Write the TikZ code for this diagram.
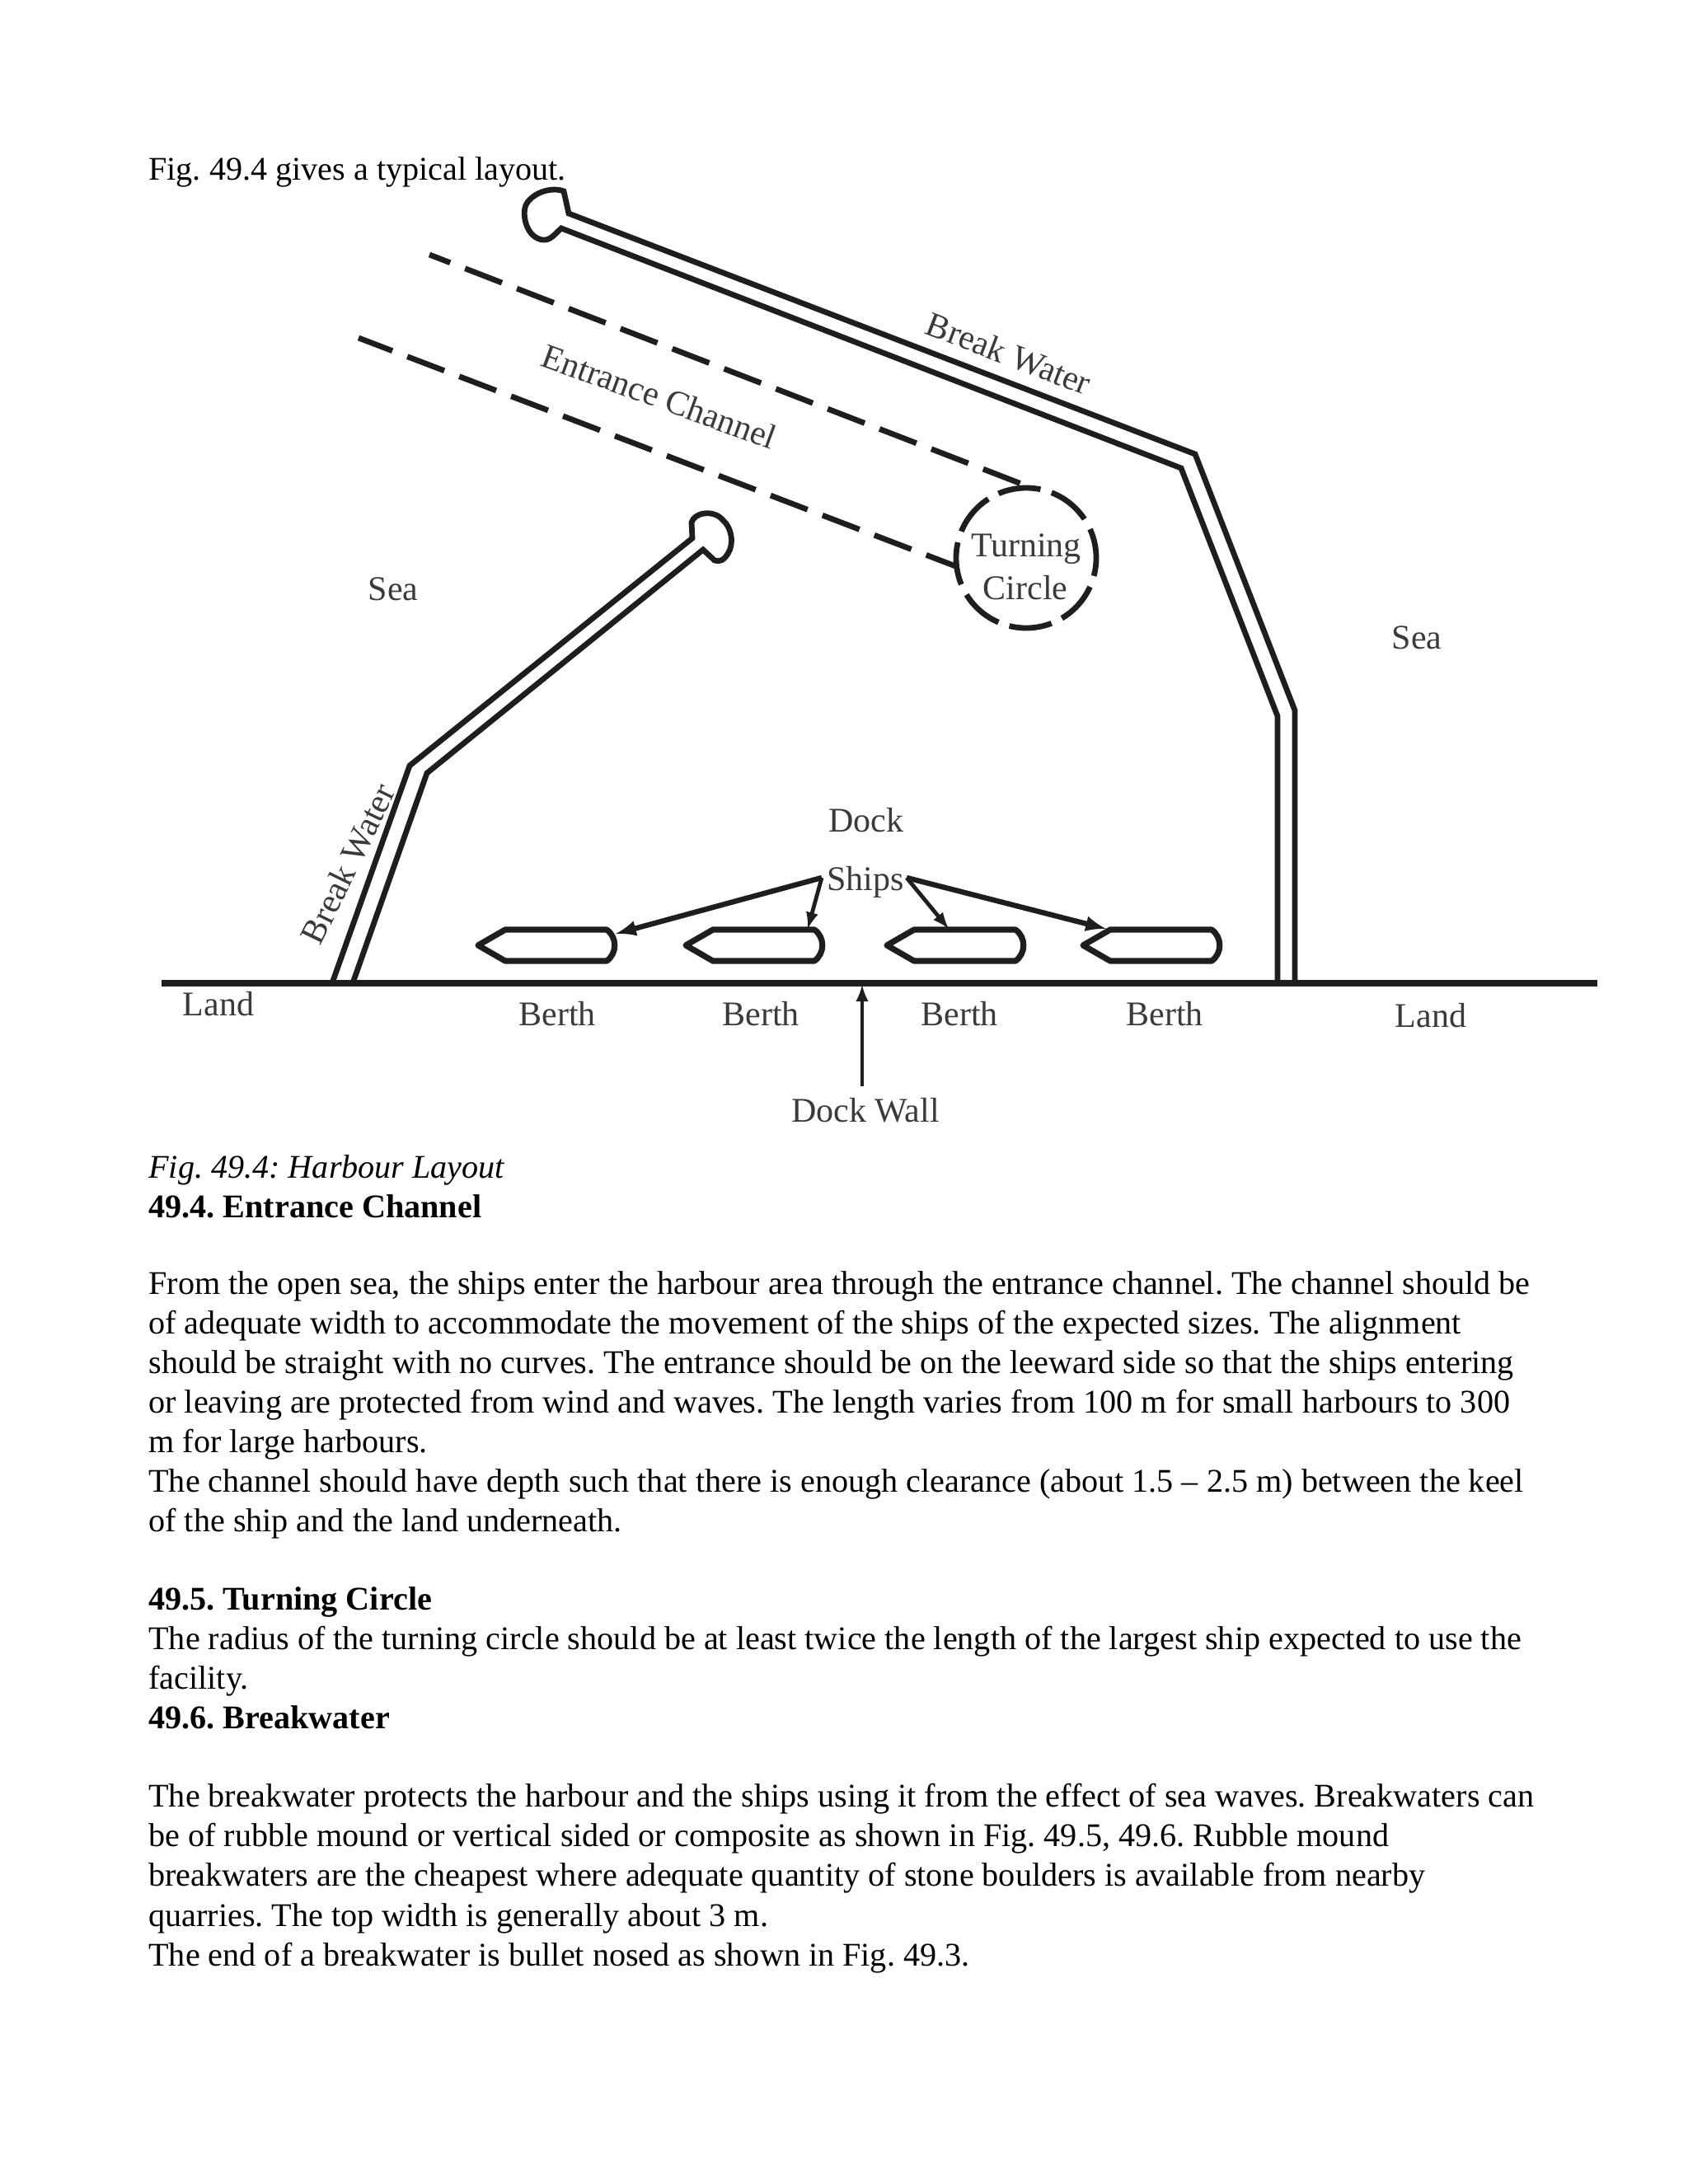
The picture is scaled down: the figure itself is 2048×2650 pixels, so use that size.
\documentclass[tikz,border=0pt]{standalone}
\usepackage{fontspec}
\setmainfont{Liberation Serif}
\usetikzlibrary{arrows}
\frenchspacing

\definecolor{inkline}{HTML}{1E1E1E}
\definecolor{inklabel}{HTML}{3A3A3A}

\begin{document}
\begin{tikzpicture}[
	x=0.5pt, y=-0.5pt,
	wall/.style={ draw=inkline, line width=3.4pt, line join=miter },
	land/.style={ draw=inkline, line width=4.2pt },
	channel/.style={ draw=inkline, line width=3.4pt, dash pattern=on 24pt off 9.7pt },
	ship/.style={ draw=inkline, line width=3.6pt, line join=round },
	pointer/.style={ draw=inkline, line width=2.4pt, -latex },
	label/.style={ inner sep=0pt, text=inklabel, font=\fontsize{21}{25}\selectfont },
	bodytext/.style={ inner sep=0pt, anchor=north west, align=left, font=\fontsize{20.08}{24.05}\selectfont },
]
\useasboundingbox (0,0) rectangle (2048,2650);

% page text above the figure
\node (intro) at (180,218) [inner sep=0pt,anchor=base west,font=\fontsize{20.08}{24.05}\selectfont] {Fig. 49.4 gives a typical layout.};

% ground
\coordinate (landL) at (196,1193);
\coordinate (landR) at (1938,1193);
\draw[land] (landL) to (landR);

% right break water
\draw[wall] (1550,1190) -- (1550,869) -- (1433,568) -- (681,277)
	.. controls (672,285) and (668,292) .. (658,291)
	.. controls (640,288) and (634,265) .. (637,252)
	.. controls (640,238) and (665,225) .. (684,232)
	-- (690,259) -- (1450,551) -- (1571,862) -- (1571,1190);

% left break water
\draw[wall] (404,1190) -- (497,929) -- (840,653) -- (839,634)
	.. controls (842,622) and (865,618) .. (876,630)
	.. controls (888,640) and (891,660) .. (883,672)
	.. controls (878,680) and (873,682) .. (867,680)
	-- (853,667) -- (518,938) -- (429,1190);

% channel and turning circle
\node (turn) at (1245,677) [circle,draw=inkline,line width=3.4pt,minimum size=85pt,inner sep=0pt,
	dash pattern=on 26pt off 7pt,dash phase=8pt] {};
\node (turning) at (1245,666) [label] {Turning};
\node (circle) at (1244,713) [label] {Circle};
\coordinate (chanAin) at (521,309);
\coordinate (chanAend) at (1239,587);
\coordinate (chanBin) at (435,410);
\coordinate (chanBend) at (1162,688);
\draw[channel,dash phase=10.5pt] (chanAin) to (chanAend);
\draw[channel,dash phase=2pt] (chanBin) to (chanBend);

% ships
\foreach \n/\x/\hx/\hy in {1/580/167/-14, 2/832/148/-20, 3/1076/75/-20, 4/1314/28/-20} {
	\draw[ship,shift={(\x,1147)}] (0,0) -- (33,-19) -- (156,-19)
		.. controls (169,-10) and (169,10) .. (156,19) -- (33,19) -- cycle
		(\hx,\hy) coordinate (ship\n);
}

% labels
\node (dock) at (1051,995) [label] {Dock};
\node (ships) at (1050,1070) [label] {Ships};
\node (sea1) at (477,715) [label] {Sea};
\node (sea2) at (1719,774) [label] {Sea};
\node (land1) at (265,1218) [label] {Land};
\node (land2) at (1736,1232) [label] {Land};
\node (berth1) at (676,1230) [label] {Berth};
\node (berth2) at (923,1230) [label] {Berth};
\node (berth3) at (1164,1230) [label] {Berth};
\node (berth4) at (1413,1230) [label] {Berth};
\node (wallname) at (1050,1347) [label] {Dock Wall};
\node (bw1) at (1224,429) [label,rotate=-21] {Break Water};
\node (bw2) at (422,1048) [label,rotate=64] {Break Water};
\node (entry) at (800,481) [label,rotate=-20] {Entrance Channel};

% pointers
\coordinate (shipsL) at (997,1065);
\coordinate (shipsR) at (1100,1065);
\draw[pointer,line width=3.2pt] (shipsL) to (ship1);
\draw[pointer] (shipsL) to (ship2);
\draw[pointer] (shipsR) to (ship3);
\draw[pointer,line width=3.2pt] (shipsR) to (ship4);
\coordinate (walltail) at (1046,1318);
\coordinate (wallhead) at (1046,1195);
\draw[pointer] (walltail) to (wallhead);

% page text below the figure
\node (captionblock) at (180,1401) [bodytext] {%
\textit{Fig. 49.4: Harbour Layout}\\
\textbf{49.4. Entrance Channel}};

\node (channelblock) at (180,1542) [bodytext] {%
From the open sea, the ships enter the harbour area through the entrance channel. The channel should be\\
of adequate width to accommodate the movement of the ships of the expected sizes. The alignment\\
should be straight with no curves. The entrance should be on the leeward side so that the ships entering\\
or leaving are protected from wind and waves. The length varies from 100 m for small harbours to 300\\
m for large harbours.\\
The channel should have depth such that there is enough clearance (about 1.5 – 2.5 m) between the keel\\
of the ship and the land underneath.};

\node (circleblock) at (180,1925) [bodytext] {%
\textbf{49.5. Turning Circle}\\
The radius of the turning circle should be at least twice the length of the largest ship expected to use the\\
facility.\\
\textbf{49.6. Breakwater}};

\node (waterblock) at (180,2164) [bodytext] {%
The breakwater protects the harbour and the ships using it from the effect of sea waves. Breakwaters can\\
be of rubble mound or vertical sided or composite as shown in Fig. 49.5, 49.6. Rubble mound\\
breakwaters are the cheapest where adequate quantity of stone boulders is available from nearby\\
quarries. The top width is generally about 3 m.\\
The end of a breakwater is bullet nosed as shown in Fig. 49.3.};

\end{tikzpicture}
\end{document}
